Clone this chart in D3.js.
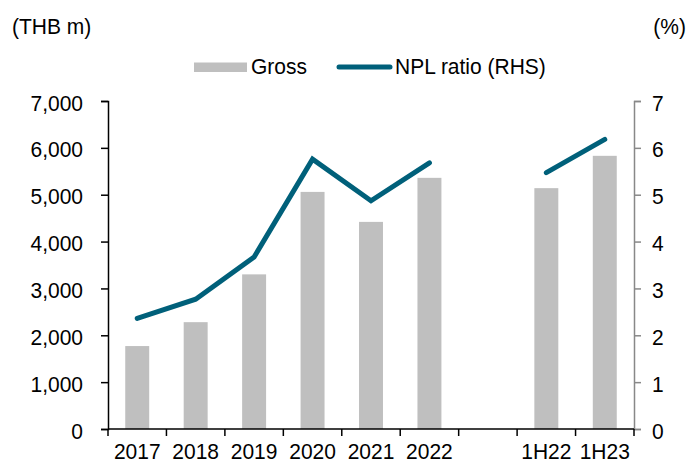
<!DOCTYPE html>
<html>
<head>
<meta charset="utf-8">
<script src="https://cdn.jsdelivr.net/npm/d3@7"></script>
<style>
  html, body { margin: 0; padding: 0; background: #fff; }
  svg text { font-family: "Liberation Sans", Arial, sans-serif; fill: #000; }
</style>
</head>
<body>
<svg id="chart" width="689" height="464"></svg>
<script>
const categories = ["2017", "2018", "2019", "2020", "2021", "2022", "", "1H22", "1H23"];
const grossValues = [1770, 2280, 3300, 5060, 4420, 5360, null, 5140, 5830];
const nplRatio = [2.36, 2.77, 3.67, 5.76, 4.87, 5.68, null, 5.47, 6.18];
const leftTicks = [0, 1000, 2000, 3000, 4000, 5000, 6000, 7000];
const rightTicks = [0, 1, 2, 3, 4, 5, 6, 7];
const leftUnit = "(THB m)";
const rightUnit = "(%)";
const legendLabels = ["Gross", "NPL ratio (RHS)"];

const svg = d3.select("#chart");
const m = { left: 108, right: 634, top: 101, bottom: 429 };
const fs = 21;
const sy = 1.08;

const x = d3.scaleBand().domain(d3.range(categories.length)).range([m.left, m.right]).paddingInner(0).paddingOuter(0);
const yL = d3.scaleLinear().domain([0, 7000]).range([m.bottom, m.top]);
const yR = d3.scaleLinear().domain([0, 7]).range([m.bottom, m.top]);
const barW = x.bandwidth() * 0.41;

function label(g, tx, ty, str, anchor) {
  return g.append("text")
    .attr("transform", `translate(${tx},${ty}) scale(1,${sy})`)
    .attr("text-anchor", anchor || "start")
    .attr("font-size", fs)
    .text(str);
}

// bars
svg.append("g").selectAll("rect")
  .data(grossValues.map((v, i) => ({ v, i })).filter(d => d.v != null))
  .join("rect")
  .attr("x", d => x(d.i) + x.bandwidth() / 2 - barW / 2)
  .attr("width", barW)
  .attr("y", d => yL(d.v))
  .attr("height", d => yL(0) - yL(d.v))
  .attr("fill", "#bfbfbf");

// line
const line = d3.line()
  .defined(d => d.v != null)
  .x(d => x(d.i) + x.bandwidth() / 2)
  .y(d => yR(d.v));
svg.append("path")
  .datum(nplRatio.map((v, i) => ({ v, i })))
  .attr("d", line)
  .attr("fill", "none")
  .attr("stroke", "#00607a")
  .attr("stroke-width", 5)
  .attr("stroke-linecap", "round")
  .attr("stroke-linejoin", "miter");

// left axis
const gL = svg.append("g").attr("transform", `translate(${m.left},0)`)
  .call(d3.axisLeft(yL).tickValues(leftTicks).tickFormat(d3.format(",")).tickSize(7).tickPadding(18));
gL.select(".domain").attr("stroke", "#000").attr("stroke-width", 1.5);
gL.selectAll(".tick line").attr("stroke", "#000").attr("stroke-width", 1.5);
gL.selectAll("text").attr("font-size", fs).attr("font-family", "Liberation Sans, Arial, sans-serif")
  .attr("fill", "#000").attr("dy", "0.4em").attr("transform", `scale(1,${sy})`);

// right axis
const gR = svg.append("g").attr("transform", `translate(${m.right},0)`)
  .call(d3.axisRight(yR).tickValues(rightTicks).tickFormat(d3.format("d")).tickSize(7).tickPadding(11));
gR.select(".domain").attr("stroke", "#888").attr("stroke-width", 1.5);
gR.selectAll(".tick line").attr("stroke", "#888").attr("stroke-width", 1.5);
gR.selectAll("text").attr("font-size", fs).attr("font-family", "Liberation Sans, Arial, sans-serif")
  .attr("fill", "#000").attr("dy", "0.4em").attr("transform", `scale(1,${sy})`);

// bottom axis: ticks at band boundaries
const gB = svg.append("g");
gB.append("line").attr("x1", m.left).attr("x2", m.right).attr("y1", m.bottom).attr("y2", m.bottom)
  .attr("stroke", "#000").attr("stroke-width", 1.5);
const bounds = d3.range(categories.length + 1).map(i => i < categories.length ? x(i) : m.right);
gB.selectAll(".bt").data(bounds).join("line")
  .attr("x1", d => d).attr("x2", d => d).attr("y1", m.bottom).attr("y2", m.bottom + 7)
  .attr("stroke", "#000").attr("stroke-width", 1.5);
categories.forEach((c, i) => label(gB, x(i) + x.bandwidth() / 2, 458.5, c, "middle"));

// units
label(svg, 12, 34, leftUnit);
label(svg, 686, 34, rightUnit, "end");

// legend
const lg = svg.append("g");
lg.append("rect").attr("x", 194).attr("y", 62.5).attr("width", 53).attr("height", 9.5).attr("fill", "#bfbfbf");
label(lg, 251, 74, legendLabels[0]);
lg.append("line").attr("x1", 339).attr("x2", 390).attr("y1", 67).attr("y2", 67)
  .attr("stroke", "#00607a").attr("stroke-width", 5).attr("stroke-linecap", "round");
label(lg, 395, 74, legendLabels[1]);
</script>
</body>
</html>
